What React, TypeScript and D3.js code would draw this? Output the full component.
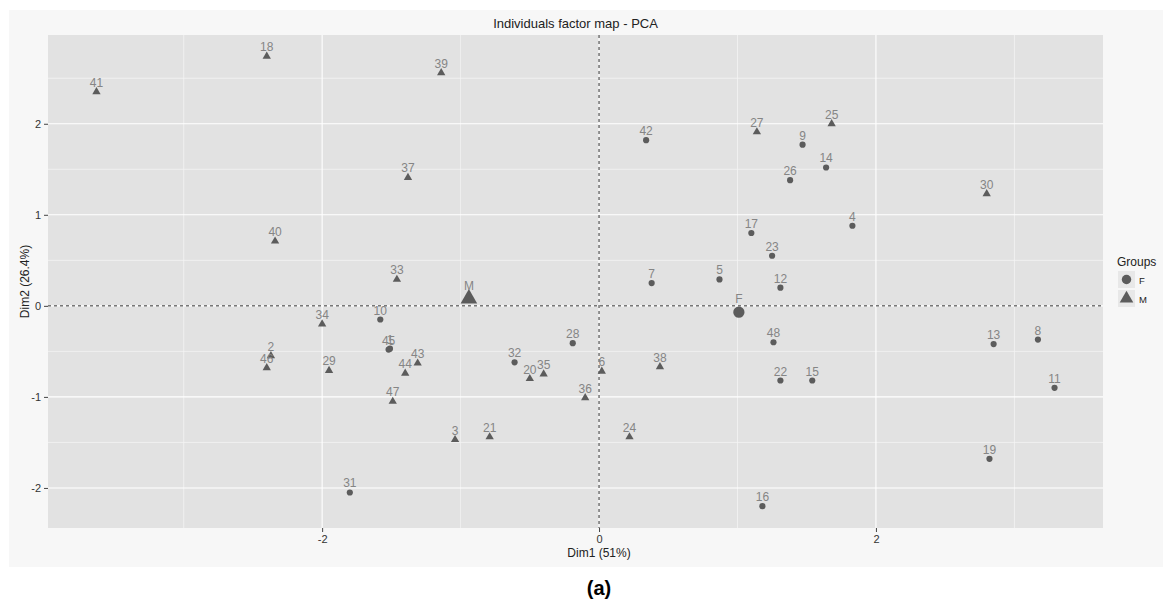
import * as d3 from "d3";
import { useEffect, useRef } from "react";

// individuals: label, Dim1, Dim2, group
const ids = ["1","2","3","4","5","6","7","8","9","10","11","12","13","14","15","16","17","18","19","20","21","22","23","24","25","26","27","28","29","30","31","32","33","34","35","36","37","38","39","40","41","42","43","44","45","46","47","48"];
const dim1 = [-1.51,-2.37,-1.04,1.83,0.87,0.02,0.38,3.17,1.47,-1.58,3.29,1.31,2.85,1.64,1.54,1.18,1.1,-2.4,2.82,-0.5,-0.79,1.31,1.25,0.22,1.68,1.38,1.14,-0.19,-1.95,2.8,-1.8,-0.61,-1.46,-2.0,-0.4,-0.1,-1.38,0.44,-1.14,-2.34,-3.63,0.34,-1.31,-1.4,-1.52,-2.4,-1.49,1.26];
const dim2 = [-0.47,-0.55,-1.47,0.88,0.29,-0.72,0.25,-0.37,1.77,-0.15,-0.9,0.2,-0.42,1.52,-0.82,-2.2,0.8,2.74,-1.68,-0.8,-1.44,-0.82,0.55,-1.44,2.0,1.38,1.91,-0.41,-0.71,1.23,-2.05,-0.62,0.29,-0.2,-0.75,-1.01,1.41,-0.67,2.56,0.71,2.35,1.82,-0.63,-0.74,-0.48,-0.68,-1.05,-0.4];
const groups = ["F","M","M","F","F","M","F","F","F","F","F","F","F","F","F","F","F","M","F","M","M","F","F","M","M","F","M","F","M","M","F","F","M","M","M","M","M","M","M","M","M","F","M","M","F","M","M","F"];

// group centroids
const centLabels = ["F", "M"];
const centDim1 = [1.01, -0.94];
const centDim2 = [-0.07, 0.08];

const xTicks = [-2, 0, 2];
const xMinor = [-3, -1, 1, 3];
const yTicks = [-2, -1, 0, 1, 2];
const yMinor = [-1.5, -0.5, 0.5, 1.5, 2.5];

const W = 1172;
const H = 601;
const panel = { left: 48, right: 1103, top: 35, bottom: 528 };
const pointCol = "#5c5c5c";
const labelCol = "#858585";

const App = () => {
    const ref = useRef(null);

    useEffect(() => {
        const svg = d3.select(ref.current);
        svg.selectAll("*").remove();

        const x = d3.scaleLinear().domain([-3.98, 3.64]).range([panel.left, panel.right]);
        const y = d3.scaleLinear().domain([-2.44, 2.975]).range([panel.bottom, panel.top]);
        const font = "'Liberation Sans', Arial, sans-serif";

        svg.append("rect").attr("x", 0).attr("y", 0).attr("width", W).attr("height", H).attr("fill", "#ffffff");
        svg.append("rect").attr("x", 9).attr("y", 10).attr("width", 1154).attr("height", 557).attr("fill", "#f7f7f7");

        svg.append("rect")
            .attr("x", panel.left).attr("y", panel.top)
            .attr("width", panel.right - panel.left).attr("height", panel.bottom - panel.top)
            .attr("fill", "#e2e2e2");

        // grid
        const grid = svg.append("g");
        grid.selectAll(".vmin").data(xMinor).enter().append("line")
            .attr("x1", d => x(d)).attr("x2", d => x(d)).attr("y1", panel.top).attr("y2", panel.bottom)
            .attr("stroke", "#f4f4f4").attr("stroke-width", 0.8);
        grid.selectAll(".hmin").data(yMinor).enter().append("line")
            .attr("y1", d => y(d)).attr("y2", d => y(d)).attr("x1", panel.left).attr("x2", panel.right)
            .attr("stroke", "#f4f4f4").attr("stroke-width", 0.8);
        grid.selectAll(".vmaj").data(xTicks).enter().append("line")
            .attr("x1", d => x(d)).attr("x2", d => x(d)).attr("y1", panel.top).attr("y2", panel.bottom)
            .attr("stroke", "#ffffff").attr("stroke-width", 1.1);
        grid.selectAll(".hmaj").data(yTicks).enter().append("line")
            .attr("y1", d => y(d)).attr("y2", d => y(d)).attr("x1", panel.left).attr("x2", panel.right)
            .attr("stroke", "#ffffff").attr("stroke-width", 1.1);

        // dashed zero lines
        svg.append("line")
            .attr("x1", x(0)).attr("x2", x(0)).attr("y1", panel.top).attr("y2", panel.bottom)
            .attr("stroke", "#333").attr("stroke-width", 1).attr("stroke-dasharray", "3,3");
        svg.append("line")
            .attr("y1", y(0)).attr("y2", y(0)).attr("x1", panel.left).attr("x2", panel.right)
            .attr("stroke", "#333").attr("stroke-width", 1).attr("stroke-dasharray", "3,3");

        // axes
        const xAxis = svg.append("g")
            .attr("transform", `translate(0, ${panel.bottom})`)
            .call(d3.axisBottom(x).tickValues(xTicks).tickSize(4).tickPadding(3).tickFormat(d => String(d)));
        const yAxis = svg.append("g")
            .attr("transform", `translate(${panel.left}, 0)`)
            .call(d3.axisLeft(y).tickValues(yTicks).tickSize(4).tickPadding(3).tickFormat(d => String(d)));
        [xAxis, yAxis].forEach(a => {
            a.select(".domain").remove();
            a.selectAll("line").attr("stroke", "#444");
            a.selectAll("text").attr("fill", "#333").style("font-family", font).style("font-size", "11px");
        });

        // points
        const tri = d3.symbol().type(d3.symbolTriangle).size(30);
        const pts = ids.map((id, i) => ({ id, x: dim1[i], y: dim2[i], g: groups[i] }));
        svg.selectAll(".pt").data(pts).enter().append("path")
            .attr("d", d => d.g === "M" ? tri() : d3.symbol().type(d3.symbolCircle).size(30)())
            .attr("transform", d => `translate(${x(d.x)}, ${y(d.y)})`)
            .attr("fill", pointCol);
        svg.selectAll(".lb").data(pts).enter().append("text")
            .attr("x", d => x(d.x)).attr("y", d => y(d.y) - 5)
            .attr("text-anchor", "middle")
            .attr("fill", labelCol)
            .style("font-family", font).style("font-size", "12px")
            .text(d => d.id);

        // centroids
        const cents = centLabels.map((l, i) => ({ id: l, x: centDim1[i], y: centDim2[i] }));
        svg.selectAll(".ct").data(cents).enter().append("path")
            .attr("d", d => d.id === "M" ? d3.symbol().type(d3.symbolTriangle).size(120)() : d3.symbol().type(d3.symbolCircle).size(100)())
            .attr("transform", d => `translate(${x(d.x)}, ${y(d.y)})`)
            .attr("fill", pointCol);
        svg.selectAll(".ctl").data(cents).enter().append("text")
            .attr("x", d => x(d.x)).attr("y", d => y(d.y) - 9)
            .attr("text-anchor", "middle")
            .attr("fill", labelCol)
            .style("font-family", font).style("font-size", "12px")
            .text(d => d.id);

        // titles
        svg.append("text")
            .attr("x", (panel.left + panel.right) / 2).attr("y", 28)
            .attr("text-anchor", "middle").attr("fill", "#222")
            .style("font-family", font).style("font-size", "13px")
            .text("Individuals factor map - PCA");
        svg.append("text")
            .attr("x", x(0)).attr("y", 557)
            .attr("text-anchor", "middle").attr("fill", "#222")
            .style("font-family", font).style("font-size", "12px")
            .text("Dim1 (51%)");
        svg.append("text")
            .attr("transform", `translate(29, ${(panel.top + panel.bottom) / 2}) rotate(-90)`)
            .attr("text-anchor", "middle").attr("fill", "#222")
            .style("font-family", font).style("font-size", "12px")
            .text("Dim2 (26.4%)");

        // legend
        svg.append("text")
            .attr("x", 1117).attr("y", 266).attr("fill", "#222")
            .style("font-family", font).style("font-size", "12px")
            .text("Groups");
        centLabels.forEach((l, i) => {
            const ky = 271 + i * 19;
            svg.append("rect").attr("x", 1118).attr("y", ky).attr("width", 17).attr("height", 17).attr("fill", "#e8e8e8");
            svg.append("path")
                .attr("d", l === "M" ? d3.symbol().type(d3.symbolTriangle).size(80)() : d3.symbol().type(d3.symbolCircle).size(70)())
                .attr("transform", `translate(${1126.5}, ${ky + 8.5})`)
                .attr("fill", pointCol);
            svg.append("text")
                .attr("x", 1139).attr("y", ky + 12.5).attr("fill", "#222")
                .style("font-family", font).style("font-size", "9.5px")
                .text(l);
        });

        svg.append("text")
            .attr("x", x(0)).attr("y", 595)
            .attr("text-anchor", "middle").attr("fill", "#000")
            .style("font-family", "'Liberation Sans Narrow', 'Liberation Sans', sans-serif")
            .style("font-size", "20px").style("font-weight", "bold")
            .text("(a)");
    }, []);

    return (
        <svg ref={ref} width={W} height={H} style={{ position: "absolute", left: 0, top: 0 }}></svg>
    );
};

export default App;
